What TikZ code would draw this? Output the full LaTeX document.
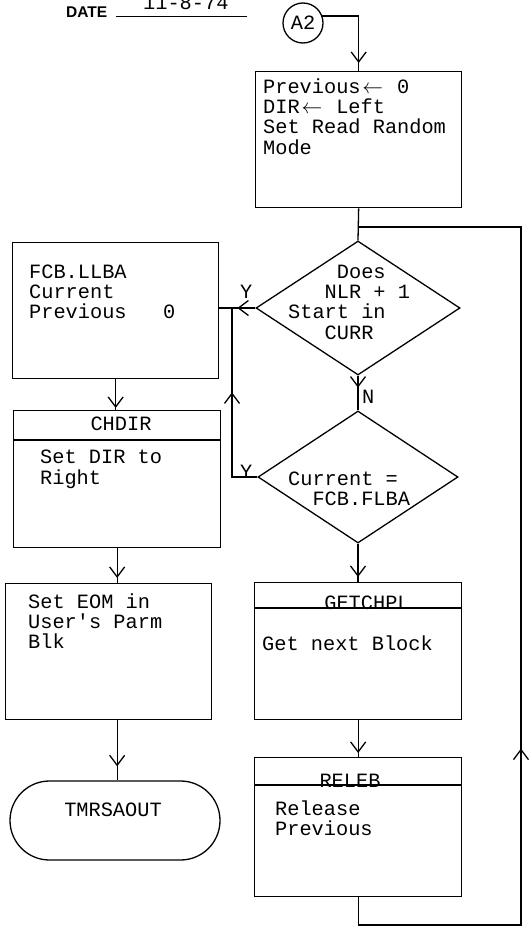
\documentclass[tikz,border=0pt]{standalone}
\usepackage{fontspec}
\setmainfont{Liberation Serif}
\setmonofont{Liberation Mono}
\newfontfamily\datefont{Liberation Sans}
\usetikzlibrary{arrows.meta,decorations.markings,shapes.geometric,shapes.misc}
\newlength\chw
\setlength\chw{12.18pt}
\newcommand\chind[1]{\hspace*{#1\chw}}
\tikzset{
  ln/.style={line width=1.3pt},
  box/.style={draw, line width=1.3pt, rectangle, inner sep=0pt, anchor=north west},
  txt/.style={font=\ttfamily\fontsize{20.3}{20.3}\selectfont, inner sep=0pt, anchor=base west, align=left},
  tipat/.style={postaction={decorate,decoration={markings,mark=at position #1 with {\arrow{Straight Barb[length=10pt,width=15pt]}}}}},
}
\begin{document}
\begin{tikzpicture}[x=1pt,y=-1pt]
\useasboundingbox (0,0) rectangle (530,939);
% date
\node[font=\datefont\bfseries\fontsize{15.5}{17}\selectfont, inner sep=0pt, anchor=base west] (datelbl) at (66,18) {DATE};
\coordinate (ulA) at (116,17);
\coordinate (ulB) at (247,17);
\draw[line width=1pt] (ulA) -- (ulB);
\node[txt] (dateval) at (143,10) {11-8-74};
% connector A2
\node[circle, draw, ln, minimum size=40pt, inner sep=0pt, font=\ttfamily\fontsize{20.3}{20.3}\selectfont] (a2) at (303,23) {A2};
% boxes (multi-line texts are anchored at the baseline of their last line)
\node[box, minimum width=206pt, minimum height=136pt] (init) at (255,71) {};
\node[txt] (initt) at (263,154) {Previous\makebox[2\chw]{$\leftarrow$}~0\\DIR\makebox[2\chw]{$\leftarrow$}~Left\\Set Read Random\\Mode};
\node[diamond, draw, ln, minimum width=204pt, minimum height=134pt, inner sep=0pt] (d1) at (358,308) {};
\node[txt] (d1t) at (288,339) {\chind{4}Does\\\chind{3}NLR + 1\\Start in\\\chind{3}CURR};
\node[box, minimum width=206pt, minimum height=136pt] (fcb) at (12,242) {};
\node[txt] (fcbt) at (29,318.6) {FCB.LLBA\\Current\\Previous~~~0};
\node[box, minimum width=207pt, minimum height=137pt] (chdir) at (13,410) {};
\draw[ln] ([yshift=-30pt]chdir.north west) -- ([yshift=-30pt]chdir.north east);
\node[txt, anchor=base] (chdirh) at (121,430) {CHDIR};
\node[txt] (chdirt) at (40,484) {Set DIR to\\Right};
\node[box, minimum width=206pt, minimum height=136pt] (eom) at (5,583) {};
\node[txt] (eomt) at (28,648.6) {Set EOM in\\User's Parm\\Blk};
\node[rounded rectangle, draw, ln, minimum width=210pt, minimum height=79pt, inner sep=0pt] (term) at (115,820.5) {};
\node[txt, anchor=base] (termt) at (113,816) {TMRSAOUT};
\node[diamond, draw, ln, minimum width=200pt, minimum height=132pt, inner sep=0pt] (d2) at (358,477) {};
\node[txt] (d2t) at (288,505.3) {Current =\\\chind{2}FCB.FLBA};
\node[box, minimum width=207pt, minimum height=137pt] (getc) at (254,582) {};
\draw[ln] ([yshift=-26pt]getc.north west) -- ([yshift=-26pt]getc.north east);
\node[txt, anchor=base] (getch) at (367,609) {GETCHPL};
\node[txt] (getct) at (262,650) {Get next Block};
\node[box, minimum width=207pt, minimum height=139pt] (rel) at (254,757) {};
\draw[ln] ([yshift=-28pt]rel.north west) -- ([yshift=-28pt]rel.north east);
\node[txt, anchor=base] (relh) at (350,787) {RELEB};
\node[txt] (relt) at (275,835.3) {Release\\Previous};
% labels
\node[txt] (y1) at (240,298) {Y};
\node[txt] (y2) at (240,478) {Y};
\node[txt] (nlab) at (362,403) {N};
% connectors
\coordinate (rb) at (521,925);
\coordinate (rt) at (521,227);
\coordinate (jx) at (232,0);
\draw[ln, tipat=-8pt] (a2.20) -| (init.north);
\draw[ln] (init.south) -- (d1.north);
\draw[ln, tipat=367pt] (rel.south) |- (rb) -- (rt) -- (rt -| init.south);
\draw[ln, tipat=18pt] (d1.west) -- (d1.west -| fcb.east);
\draw[ln, tipat=110pt] (d2.west) -- (d2.west -| jx) -- (d1.west -| jx);
\draw[ln, tipat=12pt] (d1.south) -- (d2.north);
\draw[ln, tipat=-2pt] (fcb.south) -- (fcb.south |- chdir.north);
\draw[ln, tipat=-5pt] (chdir.south) -- (chdir.south |- eom.north);
\draw[ln, tipat=-14pt] (chdir.south |- eom.south) -- (chdir.south |- term.north);
\draw[ln, tipat=-5pt] (d2.south) -- (d2.south |- getc.north);
\draw[ln, tipat=-4pt] (getc.south) -- (getc.south |- rel.north);
\end{tikzpicture}
\end{document}
